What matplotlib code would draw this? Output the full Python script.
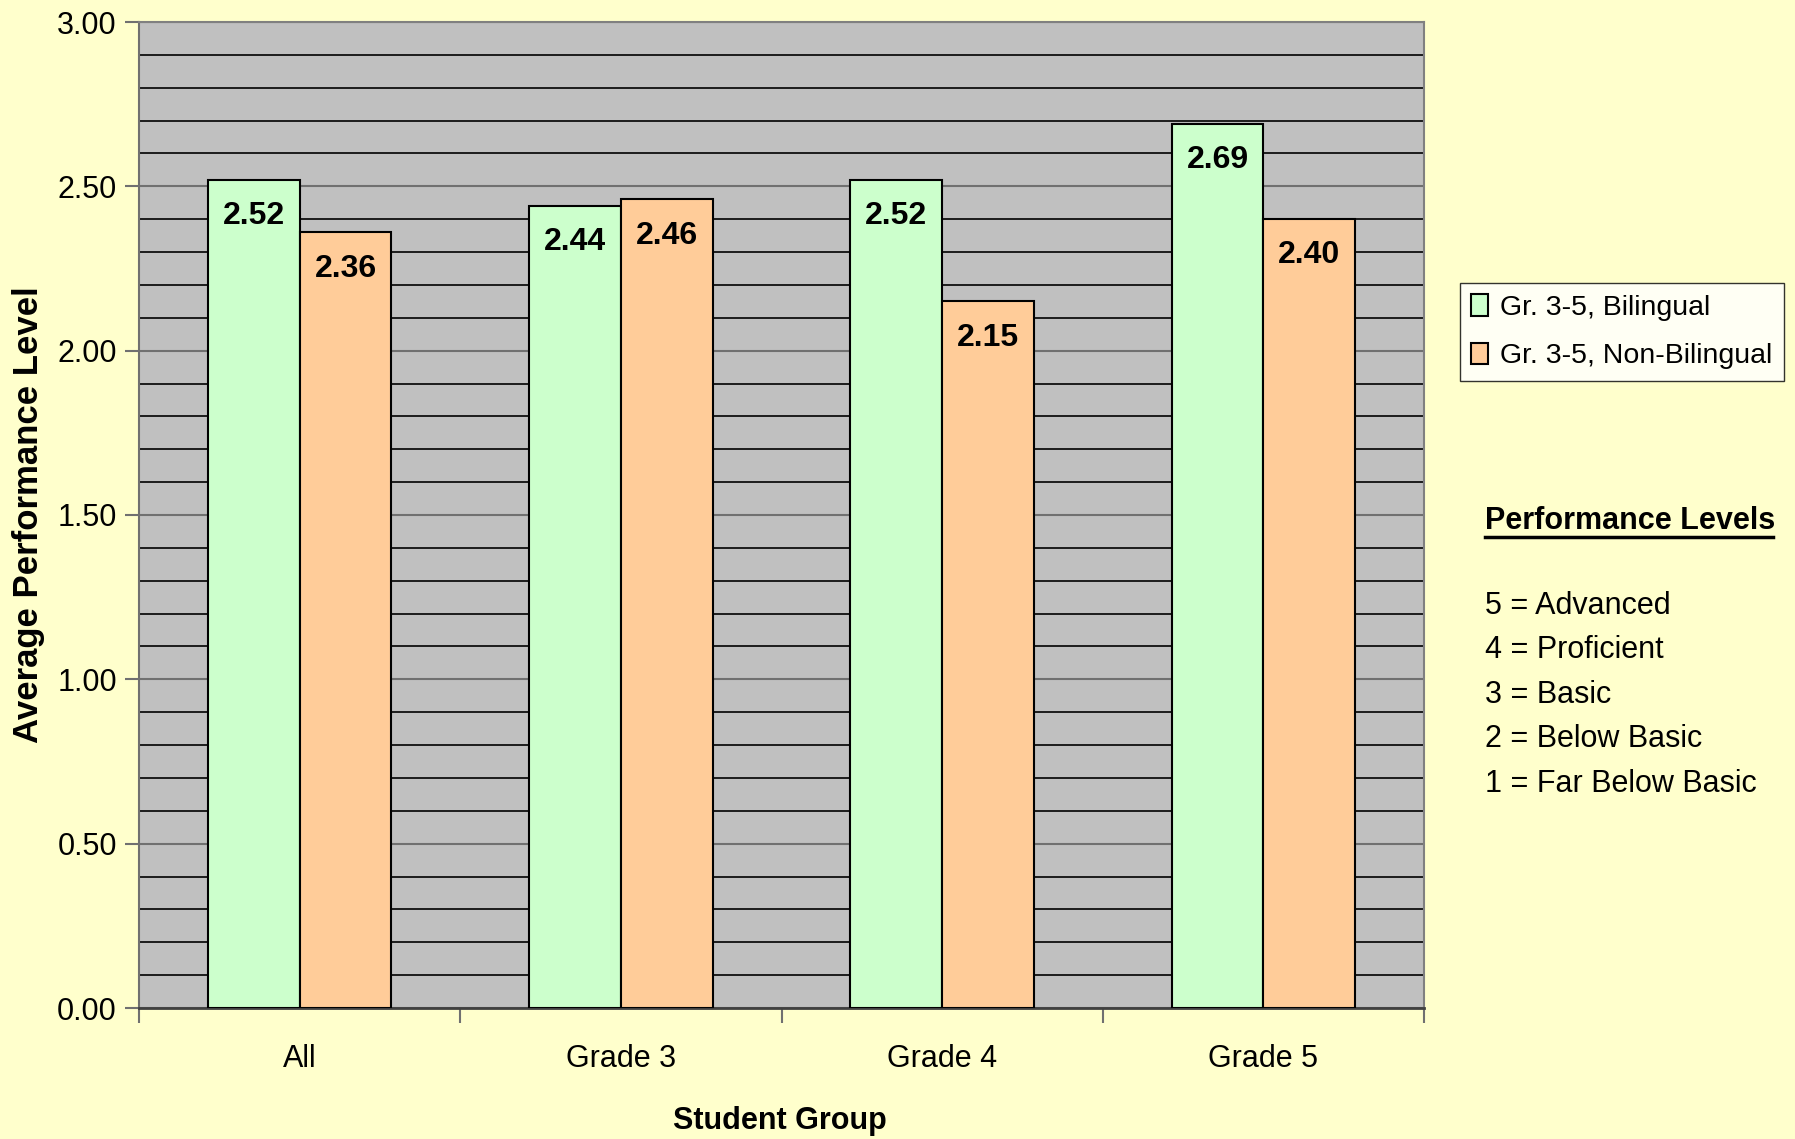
import numpy as np
import matplotlib.pyplot as plt
from matplotlib.ticker import MultipleLocator

plt.rcParams['font.family'] = ['Liberation Sans', 'DejaVu Sans']

groups = ['All', 'Grade 3', 'Grade 4', 'Grade 5']
bilingual = [2.52, 2.44, 2.52, 2.69]
non_bilingual = [2.36, 2.46, 2.15, 2.40]
series_names = ['Gr. 3-5, Bilingual', 'Gr. 3-5, Non-Bilingual']
levels = ['5 = Advanced', '4 = Proficient', '3 = Basic', '2 = Below Basic', '1 = Far Below Basic']

bg = '#FFFFCC'
fig = plt.figure(figsize=(17.95, 11.39), dpi=100, facecolor=bg)
ax = fig.add_axes([139 / 1795, 1 - 1008 / 1139, (1424 - 139) / 1795, (1008 - 22) / 1139])
ax.set_facecolor('#C0C0C0')

x = np.arange(len(groups))
w = 0.2857
b1 = ax.bar(x - w / 2, bilingual, w, color='#CCFFCC', edgecolor='black', linewidth=1.5,
            label=series_names[0], zorder=3)
b2 = ax.bar(x + w / 2, non_bilingual, w, color='#FFCC99', edgecolor='black', linewidth=1.5,
            label=series_names[1], zorder=3)

# value labels inside the top of each bar
for bars, vals in ((b1, bilingual), (b2, non_bilingual)):
    for rect, v in zip(bars, vals):
        ax.text(rect.get_x() + rect.get_width() / 2, v - 0.11, f'{v:.2f}',
                ha='center', va='center', fontsize=23, fontweight='bold', zorder=4)

ax.set_xlim(-0.5, len(groups) - 0.5)
ax.set_ylim(0, 3.0)
ax.yaxis.set_minor_locator(MultipleLocator(0.1))
yt = np.arange(0, 3.01, 0.5)
ax.set_yticks(yt)
ax.set_yticklabels([f'{t:.2f}' for t in yt], fontsize=22)
ax.grid(axis='y', which='minor', color='black', linewidth=1.2, zorder=1)
ax.grid(axis='y', which='major', color='#707070', linewidth=1.5, zorder=1)
ax.tick_params(axis='y', which='major', length=10, width=1.5, color='#707070', pad=6)
ax.tick_params(axis='y', which='minor', length=0)

ax.set_xticks(x)
ax.set_xticklabels(groups, fontsize=22)
ax.set_xticks(np.arange(-0.5, len(groups)), minor=True)
ax.tick_params(axis='x', which='major', length=0, pad=26)
ax.tick_params(axis='x', which='minor', length=11, width=1.5, color='#707070')

for side in ('top', 'right'):
    ax.spines[side].set_color('#808080')
    ax.spines[side].set_linewidth(1.5)
ax.spines['left'].set_color('#707070')
ax.spines['left'].set_linewidth(1.5)
ax.spines['bottom'].set_color('#404040')
ax.spines['bottom'].set_linewidth(2)

fig.text(780 / 1795, 1 - 1121 / 1139, 'Student Group', fontsize=22, fontweight='bold',
         ha='center', va='center')
fig.text(29 / 1795, 1 - 515 / 1139, 'Average Performance Level',
         rotation=90, ha='center', va='center', fontsize=25, fontweight='bold')

leg = fig.legend(handles=[b1, b2], loc='upper left', bbox_to_anchor=(1460 / 1795, 1 - 283 / 1139),
                 fontsize=20.5, frameon=True, fancybox=False, edgecolor='black',
                 handlelength=0.6, handleheight=0.8, handletextpad=0.4, borderpad=0.4,
                 labelspacing=0.75, borderaxespad=0)
leg.get_frame().set_linewidth(1.0)
leg.get_frame().set_facecolor('white')

fig.text(1485 / 1795, 1 - 529 / 1139, 'Performance Levels', fontsize=22, fontweight='bold',
         ha='left', va='baseline')
fig.add_artist(plt.Line2D([1485 / 1795, 1773 / 1795], [1 - 537 / 1139, 1 - 537 / 1139],
                          color='black', linewidth=2.5))
for i, t in enumerate(levels):
    fig.text(1485 / 1795, 1 - (605.6 + 44.5 * i) / 1139, t, fontsize=22, ha='left', va='center')

fig.savefig('out.png', dpi=100, facecolor=bg)
